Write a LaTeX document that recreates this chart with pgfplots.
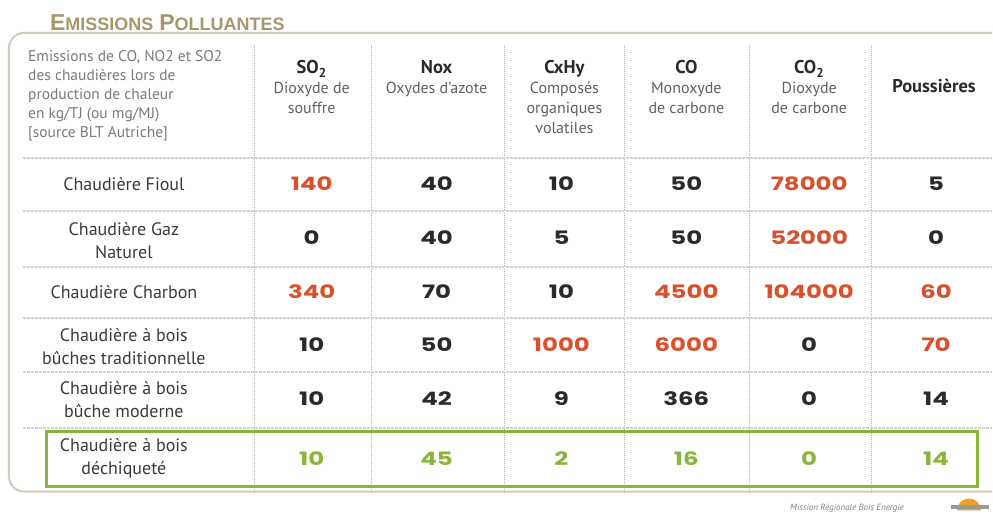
\documentclass[border=0pt]{standalone}
\usepackage{fontspec}
\usepackage{pgfplots}
\pgfplotsset{compat=1.18}
\usepackage{pgfplotstable}
\setmainfont{PT Sans}
\newfontfamily\valfont[FakeStretch=1.32]{Poppins}
\newfontfamily\titlefont{Liberation Sans}
\definecolor{redval}{HTML}{D8512C}
\definecolor{greenval}{HTML}{8AB53C}
\definecolor{blackval}{HTML}{2A2A2A}
\definecolor{titlecol}{HTML}{A8956A}
\definecolor{framecol}{HTML}{D2CABA}
\definecolor{labelcol}{HTML}{3A3A3A}
\definecolor{subcol}{HTML}{606060}
\definecolor{desccol}{HTML}{7A7A7A}
\definecolor{logoorange}{HTML}{F0A020}

% cell centres in picture pixels: x = column, y = row (downwards)
\pgfplotstableread{
x y v
437 184 40
562 184 10
687 184 50
937 184 5
312 238 0
437 238 40
562 238 5
687 238 50
937 238 0
437 292 70
562 292 10
312 345 10
437 345 50
810 345 0
312 399 10
437 399 42
562 399 9
687 399 366
810 399 0
937 399 14
}\blackcells

\pgfplotstableread{
x y v
312 184 140
810 184 78000
810 238 52000
312 292 340
687 292 4500
810 292 104000
937 292 60
562 345 1000
687 345 6000
937 345 70
}\redcells

\pgfplotstableread{
x y v
312 459 10
437 459 45
562 459 2
687 459 16
810 459 0
937 459 14
}\greencells

\begin{document}
\begin{tikzpicture}
\begin{axis}[
  width=993pt, height=515pt, scale only axis,
  xmin=0, xmax=993, ymin=0, ymax=515,
  y dir=reverse, hide axis, clip=false,
  point meta=explicit symbolic,
  nodes near coords,
  nodes near coords align={center},
]
\path (axis cs:0,0) rectangle (axis cs:993,515);

% frame
\draw[framecol, line width=2pt, rounded corners=15pt]
  (axis cs:993,33) -- (axis cs:9,33) -- (axis cs:9,492) -- (axis cs:993,492);

% title
\node[anchor=base west, text=titlecol, inner sep=0pt] at (axis cs:50,31)
  {\titlefont\bfseries{\fontsize{23}{23}\selectfont E}{\fontsize{18}{18}\selectfont MISSIONS}\hspace{6pt}{\fontsize{23}{23}\selectfont P}{\fontsize{18}{18}\selectfont OLLUANTES}};

% column separators
\pgfplotsinvokeforeach{255,372,505,625,750,872}{
  \draw[gray!60, line width=0.8pt, dash pattern=on 1pt off 1pt] (axis cs:#1,45) -- (axis cs:#1,492);
}

% row separators
\pgfplotsinvokeforeach{158,211,267,318,372,428}{
  \draw[gray!35, line width=2pt, dash pattern=on 3pt off 1pt] (axis cs:23,#1) -- (axis cs:993,#1);
}

% highlighted row
\draw[greenval, line width=3pt] (axis cs:47,432) rectangle (axis cs:978,487);

% description
\node[anchor=north west, align=left, text=desccol, inner sep=0pt,
  font=\fontsize{15.5}{19}\selectfont] at (axis cs:28,50)
  {Emissions de CO, NO2 et SO2\\des chaudières lors de\\production de chaleur\\en kg/TJ (ou mg/MJ)\\{[source BLT Autriche]}};

% column headers
\tikzset{hd/.style={anchor=base, inner sep=0pt, text=blackval, font=\bfseries\fontsize{18.5}{20}\selectfont},
         sub/.style={anchor=north, align=center, inner sep=0pt, text=subcol, font=\fontsize{16}{20}\selectfont}}
\node[hd] at (axis cs:312,74) {SO\textsubscript{2}};
\node[sub] at (axis cs:312,82) {Dioxyde de\\souffre};
\node[hd] at (axis cs:437,74) {Nox};
\node[sub] at (axis cs:437,82) {Oxydes d'azote};
\node[hd] at (axis cs:565,74) {CxHy};
\node[sub] at (axis cs:565,82) {Composés\\organiques\\volatiles};
\node[hd] at (axis cs:687,74) {CO};
\node[sub] at (axis cs:687,82) {Monoxyde\\de carbone};
\node[hd] at (axis cs:810,74) {CO\textsubscript{2}};
\node[sub] at (axis cs:810,82) {Dioxyde\\de carbone};
\node[hd] at (axis cs:935,93) {Poussières};

% row labels
\tikzset{rl/.style={anchor=center, align=center, inner sep=0pt, text=labelcol, font=\fontsize{18}{23}\selectfont}}
\node[rl] at (axis cs:124,184) {Chaudière Fioul};
\node[rl] at (axis cs:124,241) {Chaudière Gaz\\Naturel};
\node[rl] at (axis cs:124,292) {Chaudière Charbon};
\node[rl] at (axis cs:124,347) {Chaudière à bois\\bûches traditionnelle};
\node[rl] at (axis cs:124,400) {Chaudière à bois\\bûche moderne};
\node[rl] at (axis cs:124,459) {Chaudière à bois\\déchiqueté};

% values
\addplot[draw=none, mark=none, nodes near coords style={anchor=center, text=blackval, font=\valfont\bfseries\fontsize{18.5}{18.5}\selectfont}]
  table[x=x, y=y, meta=v] {\blackcells};
\addplot[draw=none, mark=none, nodes near coords style={anchor=center, text=redval, font=\valfont\bfseries\fontsize{18.5}{18.5}\selectfont}]
  table[x=x, y=y, meta=v] {\redcells};
\addplot[draw=none, mark=none, nodes near coords style={anchor=center, text=greenval, font=\valfont\bfseries\fontsize{18.5}{18.5}\selectfont}]
  table[x=x, y=y, meta=v] {\greencells};

% footer
\node[anchor=base east, text=gray, inner sep=0pt] at (axis cs:905,511)
  {\itshape\fontsize{9}{9}\selectfont Mission Régionale Bois Energie};
\fill[logoorange] (axis cs:958,511) arc[start angle=180, end angle=0, radius=12pt];
\fill[gray!80] (axis cs:952,505) rectangle (axis cs:990,510);
\end{axis}
\end{tikzpicture}
\end{document}
